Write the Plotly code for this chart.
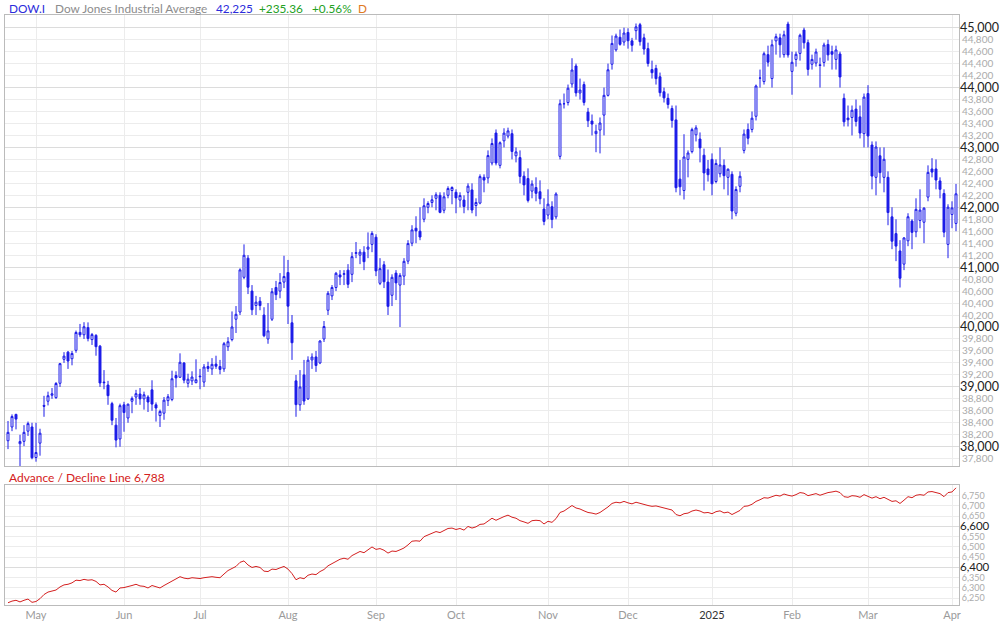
import plotly.graph_objects as go

# ---------------- data ----------------
dates = [
    "2024-04-22", "2024-04-23", "2024-04-24", "2024-04-25", "2024-04-26", "2024-04-29", "2024-04-30",
    "2024-05-01", "2024-05-02", "2024-05-03", "2024-05-06", "2024-05-07", "2024-05-08", "2024-05-09", "2024-05-10", "2024-05-13", "2024-05-14", "2024-05-15", "2024-05-16", "2024-05-17", "2024-05-20", "2024-05-21", "2024-05-22", "2024-05-23", "2024-05-24", "2024-05-28", "2024-05-29", "2024-05-30", "2024-05-31",
    "2024-06-03", "2024-06-04", "2024-06-05", "2024-06-06", "2024-06-07", "2024-06-10", "2024-06-11", "2024-06-12", "2024-06-13", "2024-06-14", "2024-06-17", "2024-06-18", "2024-06-20", "2024-06-21", "2024-06-24", "2024-06-25", "2024-06-26", "2024-06-27", "2024-06-28",
    "2024-07-01", "2024-07-02", "2024-07-03", "2024-07-05", "2024-07-08", "2024-07-09", "2024-07-10", "2024-07-11", "2024-07-12", "2024-07-15", "2024-07-16", "2024-07-17", "2024-07-18", "2024-07-19", "2024-07-22", "2024-07-23", "2024-07-24", "2024-07-25", "2024-07-26", "2024-07-29", "2024-07-30", "2024-07-31",
    "2024-08-01", "2024-08-02", "2024-08-05", "2024-08-06", "2024-08-07", "2024-08-08", "2024-08-09", "2024-08-12", "2024-08-13", "2024-08-14", "2024-08-15", "2024-08-16", "2024-08-19", "2024-08-20", "2024-08-21", "2024-08-22", "2024-08-23", "2024-08-26", "2024-08-27", "2024-08-28", "2024-08-29", "2024-08-30",
    "2024-09-03", "2024-09-04", "2024-09-05", "2024-09-06", "2024-09-09", "2024-09-10", "2024-09-11", "2024-09-12", "2024-09-13", "2024-09-16", "2024-09-17", "2024-09-18", "2024-09-19", "2024-09-20", "2024-09-23", "2024-09-24", "2024-09-25", "2024-09-26", "2024-09-27", "2024-09-30",
    "2024-10-01", "2024-10-02", "2024-10-03", "2024-10-04", "2024-10-07", "2024-10-08", "2024-10-09", "2024-10-10", "2024-10-11", "2024-10-14", "2024-10-15", "2024-10-16", "2024-10-17", "2024-10-18", "2024-10-21", "2024-10-22", "2024-10-23", "2024-10-24", "2024-10-25", "2024-10-28", "2024-10-29", "2024-10-30", "2024-10-31",
    "2024-11-01", "2024-11-04", "2024-11-05", "2024-11-06", "2024-11-07", "2024-11-08", "2024-11-11", "2024-11-12", "2024-11-13", "2024-11-14", "2024-11-15", "2024-11-18", "2024-11-19", "2024-11-20", "2024-11-21", "2024-11-22", "2024-11-25", "2024-11-26", "2024-11-27", "2024-11-29",
    "2024-12-02", "2024-12-03", "2024-12-04", "2024-12-05", "2024-12-06", "2024-12-09", "2024-12-10", "2024-12-11", "2024-12-12", "2024-12-13", "2024-12-16", "2024-12-17", "2024-12-18", "2024-12-19", "2024-12-20", "2024-12-23", "2024-12-24", "2024-12-26", "2024-12-27", "2024-12-30", "2024-12-31",
    "2025-01-02", "2025-01-03", "2025-01-06", "2025-01-07", "2025-01-08", "2025-01-10", "2025-01-13", "2025-01-14", "2025-01-15", "2025-01-16", "2025-01-17", "2025-01-21", "2025-01-22", "2025-01-23", "2025-01-24", "2025-01-27", "2025-01-28", "2025-01-29", "2025-01-30", "2025-01-31",
    "2025-02-03", "2025-02-04", "2025-02-05", "2025-02-06", "2025-02-07", "2025-02-10", "2025-02-11", "2025-02-12", "2025-02-13", "2025-02-14", "2025-02-18", "2025-02-19", "2025-02-20", "2025-02-21", "2025-02-24", "2025-02-25", "2025-02-26", "2025-02-27", "2025-02-28",
    "2025-03-03", "2025-03-04", "2025-03-05", "2025-03-06", "2025-03-07", "2025-03-10", "2025-03-11", "2025-03-12", "2025-03-13", "2025-03-14", "2025-03-17", "2025-03-18", "2025-03-19", "2025-03-20", "2025-03-21", "2025-03-24", "2025-03-25", "2025-03-26", "2025-03-27", "2025-03-28", "2025-03-31",
    "2025-04-01", "2025-04-02",
]

opens = [
    38100, 38330, 38540, 38050, 38090, 38260, 38330,
    37820, 38060, 38690, 38760, 38860, 38820, 39060, 39460, 39580, 39470, 39610, 39910, 39870, 39990, 39790, 39860, 39680, 39080, 39030, 38720, 38360, 38130,
    38700, 38480, 38760, 38830, 38880, 38800, 38830, 38950, 38700, 38520, 38560, 38770, 38790, 39190, 39160, 39400, 39060, 39100, 39070,
    39180, 39080, 39340, 39300, 39380, 39340, 39300, 39670, 39790, 40130, 40250, 40830, 41150, 40600, 40360, 40430, 40200, 39800, 40130, 40660, 40600, 40750,
    40910, 40070, 39100, 38700, 39200, 38800, 39450, 39500, 39400, 39800, 40280, 40520, 40660, 40870, 40880, 40950, 40880, 41230, 41200, 41250, 41300, 41380,
    41500, 40730, 41040, 40750, 40530, 40900, 40700, 40850, 41100, 41400, 41650, 41600, 41800, 42000, 42080, 42150, 42200, 41950, 42200, 42280,
    42250, 42120, 42120, 42250, 42290, 42030, 42070, 42500, 42490, 42740, 43240, 42700, 43110, 43190, 43230, 42860, 42830, 42520, 42480, 42270, 42330, 42260, 41970,
    41870, 42010, 41840, 42850, 43730, 43750, 44060, 44360, 43910, 44050, 43590, 43440, 43230, 43290, 43540, 43870, 44390, 44630, 44840, 44760,
    44920, 44780, 44950, 45050, 44830, 44650, 44300, 44320, 44180, 43930, 43820, 43650, 43460, 42470, 42280, 42800, 42930, 43210, 43140, 42870, 42640,
    42800, 42430, 42560, 42700, 42500, 42550, 41900, 42350, 42950, 43300, 43300, 43520, 44160, 44100, 44550, 44150, 44780, 44830, 44550, 45060,
    44270, 44470, 44570, 44960, 44750, 44390, 44410, 44380, 44420, 44720, 44600, 44470, 44560, 43820, 43490, 43500, 43640, 43510, 43230,
    43900, 43040, 42500, 42860, 42500, 42500, 41840, 41560, 41270, 41050, 41440, 41770, 41590, 41780, 41750, 42170, 42640, 42640, 42440, 42230, 41380,
    41880, 41730,
]

highs = [
    38430, 38540, 38550, 38200, 38360, 38420, 38400,
    38400, 38300, 38850, 38920, 38980, 39080, 39400, 39580, 39600, 39600, 39940, 40051, 40080, 40077, 39900, 39880, 39700, 39280, 39100, 38750, 38480, 38720,
    38750, 38720, 38840, 38950, 38980, 38920, 38860, 39110, 38740, 38620, 38830, 38880, 39270, 39260, 39560, 39410, 39220, 39260, 39460,
    39300, 39380, 39420, 39480, 39520, 39450, 39750, 39830, 40260, 40350, 40980, 41380, 41200, 40700, 40520, 40500, 40330, 40400, 40650, 40770, 40900, 41190,
    41120, 40200, 39200, 39280, 39450, 39510, 39560, 39600, 39780, 40100, 40600, 40700, 40920, 40950, 40950, 41050, 41250, 41420, 41300, 41350, 41580, 41600,
    41550, 41150, 41100, 40960, 40880, 40950, 40900, 41150, 41450, 41700, 41850, 42000, 42150, 42100, 42200, 42250, 42250, 42250, 42350, 42350,
    42300, 42250, 42200, 42400, 42400, 42150, 42550, 42550, 42950, 43150, 43300, 43100, 43320, 43330, 43300, 43000, 42950, 42600, 42650, 42450, 42500, 42450, 42150,
    42300, 42100, 42250, 43800, 43900, 44050, 44490, 44400, 44150, 44100, 43660, 43550, 43380, 43500, 44000, 44400, 44870, 44900, 44970, 45000,
    44990, 44830, 45070, 45080, 44900, 44750, 44450, 44380, 44250, 44000, 43900, 43700, 43700, 42790, 43220, 42950, 43330, 43370, 43250, 42980, 42790,
    42900, 42800, 43000, 42800, 42650, 42600, 42350, 42600, 43300, 43400, 43600, 44050, 44300, 44600, 44700, 44800, 44900, 44900, 44950, 45100,
    44600, 44600, 44900, 45000, 44800, 44550, 44650, 44500, 44750, 44800, 44700, 44700, 44600, 43900, 43700, 43700, 43800, 43700, 43900,
    44040, 43100, 43100, 43000, 43000, 42600, 42000, 41800, 41450, 41500, 41900, 41800, 42150, 42300, 42000, 42700, 42820, 42800, 42500, 42300, 42050,
    42100, 42390,
]

lows = [
    37960, 38260, 38290, 37611, 38010, 38180, 37790,
    37750, 37850, 38500, 38690, 38800, 38800, 39000, 39400, 39300, 39360, 39570, 39830, 39800, 39760, 39700, 39520, 39000, 38960, 38700, 38360, 37990, 38000,
    38250, 38400, 38560, 38700, 38700, 38620, 38580, 38600, 38420, 38330, 38450, 38680, 38760, 38990, 39150, 39060, 38990, 39030, 39060,
    38960, 39000, 39250, 39200, 39300, 39210, 39250, 39600, 39760, 39900, 40200, 40800, 40550, 40200, 40200, 40280, 39830, 39720, 40100, 40450, 40480, 40650,
    40050, 39450, 38500, 38600, 38700, 38780, 39300, 39250, 39380, 39750, 40200, 40450, 40600, 40700, 40700, 40650, 40750, 41150, 41050, 40950, 41150, 41250,
    40850, 40700, 40650, 40200, 40350, 40450, 40000, 40700, 41050, 41350, 41400, 41450, 41750, 41900, 42000, 41950, 41900, 41900, 42150, 42050,
    41900, 42000, 41900, 41950, 41900, 41850, 42050, 42250, 42400, 42700, 42700, 42650, 43000, 43150, 42800, 42750, 42400, 42200, 42080, 42150, 42100, 42050, 41700,
    41800, 41650, 41800, 42800, 43650, 43700, 44000, 43850, 43800, 43700, 43340, 43200, 42920, 42900, 43200, 43850, 44300, 44600, 44700, 44700,
    44650, 44600, 44800, 44700, 44550, 44350, 44150, 44050, 43850, 43750, 43650, 43330, 42250, 42200, 42130, 42500, 42900, 43100, 42750, 42280, 42430,
    42200, 42400, 42500, 42300, 42200, 41800, 41850, 42250, 42900, 43050, 43250, 43450, 44000, 44050, 44350, 44000, 44550, 44500, 44500, 44500,
    43880, 44350, 44450, 44650, 44200, 44300, 44350, 44000, 44350, 44450, 44300, 44300, 44000, 43350, 43350, 43200, 43350, 43150, 43000,
    43000, 42300, 42200, 42400, 42250, 41700, 41300, 41100, 40660, 40950, 41350, 41300, 41500, 41650, 41400, 42100, 42500, 42300, 42150, 41500, 41150,
    41650, 41600,
]

closes = [
    38240, 38504, 38461, 38086, 38240, 38386, 37816,
    37903, 38226, 38676, 38852, 38884, 39056, 39388, 39513, 39432, 39558, 39908, 39869, 40004, 39807, 39873, 39671, 39065, 39070, 38853, 38442, 38111, 38686,
    38571, 38711, 38807, 38886, 38799, 38868, 38747, 38712, 38647, 38589, 38778, 38835, 39135, 39150, 39411, 39112, 39128, 39164, 39119,
    39170, 39332, 39308, 39376, 39345, 39292, 39721, 39754, 40001, 40212, 40954, 41198, 40665, 40288, 40415, 40358, 39854, 39935, 40589, 40540, 40743, 40843,
    40348, 39737, 38703, 38998, 38763, 39446, 39498, 39357, 39766, 40008, 40563, 40660, 40897, 40835, 40890, 40713, 41175, 41241, 41251, 41091, 41335, 41563,
    40937, 40975, 40756, 40345, 40830, 40737, 40862, 41097, 41394, 41622, 41606, 41503, 42025, 42063, 42125, 42208, 41915, 42175, 42313, 42330,
    42157, 42197, 42012, 42353, 41954, 42080, 42512, 42454, 42864, 43065, 42740, 43078, 43239, 43276, 42932, 42925, 42515, 42374, 42114, 42388, 42233, 42142, 41763,
    42052, 41795, 42222, 43730, 43729, 43989, 44293, 43911, 43958, 43751, 43445, 43390, 43269, 43408, 43870, 44297, 44737, 44860, 44722, 44911,
    44782, 44706, 45014, 44766, 44643, 44402, 44248, 44149, 43914, 43828, 43717, 43450, 42327, 42342, 42840, 42907, 43297, 43326, 42992, 42574, 42544,
    42392, 42732, 42707, 42528, 42635, 41938, 42297, 42518, 43222, 43153, 43488, 44026, 44157, 44565, 44424, 44714, 44850, 44714, 44882, 44545,
    44422, 44556, 44873, 44748, 44303, 44470, 44594, 44369, 44711, 44546, 44556, 44628, 44177, 43428, 43461, 43621, 43433, 43240, 43841,
    43191, 42521, 43007, 42579, 42802, 41912, 41433, 41351, 40814, 41488, 41842, 41581, 41965, 41953, 41985, 42583, 42588, 42455, 42300, 41584, 42002,
    41990, 42225,
]

ad_line = [
    6228, 6236, 6240, 6232, 6240, 6246, 6230,
    6234, 6248, 6268, 6280, 6284, 6290, 6305, 6315, 6318, 6325, 6338, 6336, 6342, 6338, 6340, 6332, 6315, 6318, 6305, 6288, 6280, 6300,
    6302, 6306, 6312, 6318, 6310, 6308, 6300, 6312, 6306, 6300, 6312, 6322, 6335, 6342, 6355, 6348, 6345, 6350, 6348,
    6346, 6350, 6352, 6355, 6352, 6350, 6368, 6385, 6395, 6405, 6425, 6432, 6412, 6400, 6405, 6400, 6382, 6380, 6392, 6390, 6398, 6405,
    6392, 6370, 6340, 6350, 6345, 6362, 6368, 6365, 6380, 6390, 6408, 6420, 6432, 6440, 6445, 6440, 6458, 6470, 6478, 6472, 6485, 6500,
    6488, 6492, 6484, 6470, 6480, 6478, 6486, 6495, 6510, 6528, 6530, 6528, 6550, 6558, 6568, 6575, 6570, 6582, 6590, 6592,
    6585, 6590, 6582, 6600, 6592, 6598, 6610, 6612, 6628, 6640, 6630, 6640, 6648, 6655, 6645, 6640, 6628, 6622, 6615, 6628, 6630, 6628, 6612,
    6625, 6620, 6638, 6668, 6675, 6690, 6702, 6690, 6685, 6676, 6668, 6665, 6660, 6668, 6680, 6695, 6712, 6718, 6715, 6722,
    6715, 6710, 6718, 6712, 6708, 6702, 6698, 6700, 6695, 6690, 6686, 6680, 6658, 6652, 6662, 6665, 6675, 6680, 6675, 6666, 6668,
    6662, 6672, 6676, 6666, 6670, 6658, 6670, 6678, 6698, 6700, 6708, 6722, 6730, 6740, 6738, 6745, 6752, 6748, 6758, 6752,
    6748, 6755, 6765, 6762, 6750, 6755, 6760, 6752, 6760, 6765, 6768, 6772, 6765, 6745, 6742, 6750, 6748, 6742, 6755,
    6748, 6738, 6745, 6735, 6742, 6730, 6722, 6725, 6712, 6728, 6745, 6740, 6752, 6755, 6752, 6768, 6770, 6765, 6760, 6745, 6765,
    6768, 6788,
]

month_tick_dates = ["2024-05-01", "2024-06-03", "2024-07-01", "2024-08-01", "2024-09-03", "2024-10-01",
                    "2024-11-01", "2024-12-02", "2025-01-02", "2025-02-03", "2025-03-03", "2025-04-01"]
month_tick_labels = ["May", "Jun", "Jul", "Aug", "Sep", "Oct", "Nov", "Dec",
                     '<span style="color:#333333">2025</span>', "Feb", "Mar", "Apr"]

price_major_ticks = [38000, 39000, 40000, 41000, 42000, 43000, 44000, 45000]
price_minor_ticks = [37800, 38000, 38200, 38400, 38600, 38800, 39000, 39200, 39400, 39600, 39800,
                     40000, 40200, 40400, 40600, 40800, 41000, 41200, 41400, 41600, 41800,
                     42000, 42200, 42400, 42600, 42800, 43000, 43200, 43400, 43600, 43800,
                     44000, 44200, 44400, 44600, 44800, 45000]
ad_major_ticks = [6400, 6600]
ad_minor_ticks = [6250, 6300, 6350, 6400, 6450, 6500, 6550, 6600, 6650, 6700, 6750]

for name, arr in [("opens", opens), ("highs", highs), ("lows", lows), ("closes", closes), ("ad_line", ad_line)]:
    if len(arr) != len(dates):
        raise ValueError(f"{name}: {len(arr)} vs dates {len(dates)}")

# ---------------- style ----------------
BLUE = "#1C1CE8"
RED = "#D42020"
FONT = "Lato"
BORDER = "#BBBBBB"
GRID = "#ECECEC"
GRID_MAJOR = "#DCDCDC"

def fmt(v):
    return f"{v:,}"

minor_price_text = ["" if v in price_major_ticks else fmt(v) for v in price_minor_ticks]
minor_ad_text = ["" if v in ad_major_ticks else fmt(v) for v in ad_minor_ticks]

fig = go.Figure()
fig.add_trace(go.Candlestick(
    x=dates, open=opens, high=highs, low=lows, close=closes,
    increasing=dict(line=dict(color=BLUE, width=1), fillcolor="#FFFFFF"),
    decreasing=dict(line=dict(color=BLUE, width=1), fillcolor=BLUE),
    whiskerwidth=0, xaxis="x", yaxis="y", showlegend=False, hoverinfo="skip",
))
fig.add_trace(go.Scatter(x=dates[:1], y=closes[:1], xaxis="x", yaxis="y3", mode="markers",
                         marker=dict(opacity=0), showlegend=False, hoverinfo="skip"))
fig.add_trace(go.Scatter(x=dates, y=ad_line, mode="lines", line=dict(color=RED, width=1),
                         xaxis="x2", yaxis="y2", showlegend=False, hoverinfo="skip"))
fig.add_trace(go.Scatter(x=dates[:1], y=ad_line[:1], xaxis="x2", yaxis="y4", mode="markers",
                         marker=dict(opacity=0), showlegend=False, hoverinfo="skip"))

XR = [-0.75, len(dates) - 0.25]
PR = [37678, 45212]
AR = [6217, 6802]

common_x = dict(type="category", range=XR, tickvals=month_tick_dates, ticktext=month_tick_labels,
                showgrid=True, gridcolor=GRID, gridwidth=1, showline=True, mirror=True,
                linecolor=BORDER, linewidth=1, ticks="", zeroline=False, fixedrange=True,
                automargin=False)

common_y = dict(side="right", showline=False, ticks="", zeroline=False, fixedrange=True,
                automargin=False)

fig.update_layout(
    width=1000, height=622,
    margin=dict(l=5, r=41, t=15, b=17, autoexpand=False),
    paper_bgcolor="white", plot_bgcolor="white",
    font=dict(family=FONT),
    hovermode=False,
    showlegend=False,
    xaxis=dict(common_x, domain=[0, 1], anchor="y", showticklabels=False,
               rangeslider=dict(visible=False)),
    xaxis2=dict(common_x, domain=[0, 1], anchor="y2", showticklabels=True,
                tickfont=dict(family=FONT, size=11, color="#9A9A9A")),
    yaxis=dict(common_y, domain=[0.2356, 1], anchor="x", range=PR,
               tickvals=price_minor_ticks, ticktext=minor_price_text,
               tickfont=dict(family=FONT, size=10, color="#ABABAB"),
               showgrid=True, gridcolor=GRID, showline=True, mirror=True, linecolor=BORDER),
    yaxis3=dict(common_y, overlaying="y", anchor="x", range=PR,
                tickvals=price_major_ticks, ticktext=[fmt(v) for v in price_major_ticks],
                tickfont=dict(family=FONT, size=12.5, color="#222222"),
                showgrid=True, gridcolor=GRID_MAJOR),
    yaxis2=dict(common_y, domain=[0, 0.2034], anchor="x2", range=AR,
                tickvals=ad_minor_ticks, ticktext=minor_ad_text,
                tickfont=dict(family=FONT, size=9, color="#ABABAB"),
                showgrid=True, gridcolor=GRID, showline=True, mirror=True, linecolor=BORDER),
    yaxis4=dict(common_y, overlaying="y2", anchor="x2", range=AR,
                tickvals=ad_major_ticks, ticktext=[fmt(v) for v in ad_major_ticks],
                tickfont=dict(family=FONT, size=11.5, color="#222222"),
                showgrid=True, gridcolor=GRID_MAJOR),
)

PLOT_W = 954.0
def px_to_paper_x(px):
    return (px - 5) / PLOT_W

def px_to_paper_y(py):
    return (605 - py) / 590.0

title_parts = [
    ("DOW.I", 7, "#2B2BDB"),
    ("Dow Jones Industrial Average", 53, "#8C8C8C"),
    ("42,225", 214, "#2B2BDB"),
    ("+235.36", 257, "#22A022"),
    ("+0.56%", 310, "#22A022"),
    ("D", 356, "#E07A1F"),
]
for txt, px, col in title_parts:
    fig.add_annotation(text=txt, x=px_to_paper_x(px), y=px_to_paper_y(9), xref="paper", yref="paper",
                       xanchor="left", yanchor="middle", showarrow=False,
                       font=dict(family=FONT, size=11.8, color=col))

fig.add_annotation(text="Advance / Decline Line 6,788", x=px_to_paper_x(7), y=px_to_paper_y(477.5),
                   xref="paper", yref="paper", xanchor="left", yanchor="middle", showarrow=False,
                   font=dict(family=FONT, size=12, color=RED))

fig.write_html("out.html")
